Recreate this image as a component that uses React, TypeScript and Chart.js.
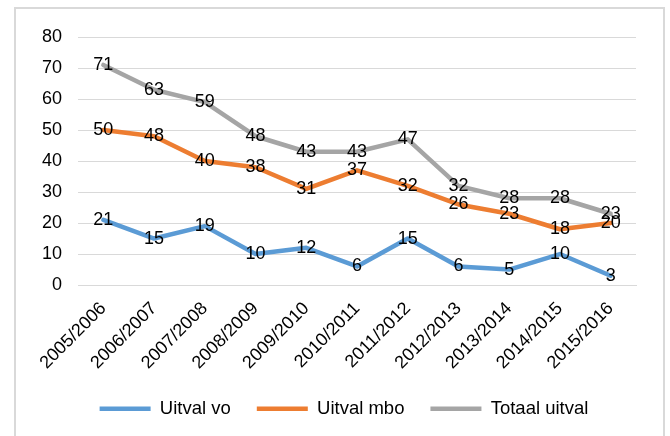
import React, { useEffect, useRef } from "react";
import { Chart, registerables } from "chart.js";

Chart.register(...registerables);

const categories = [
  "2005/2006", "2006/2007", "2007/2008", "2008/2009", "2009/2010", "2010/2011",
  "2011/2012", "2012/2013", "2013/2014", "2014/2015", "2015/2016",
];
const uitvalVo = [21, 15, 19, 10, 12, 6, 15, 6, 5, 10, 3];
const uitvalMbo = [50, 48, 40, 38, 31, 37, 32, 26, 23, 18, 20];
const totaalUitval = [71, 63, 59, 48, 43, 43, 47, 32, 28, 28, 23];
const seriesNames = ["Uitval vo", "Uitval mbo", "Totaal uitval"];
const yTicks = [0, 10, 20, 30, 40, 50, 60, 70, 80];

const FONT = "'Liberation Sans', Arial, sans-serif";

const valueLabels = {
  id: "valueLabels",
  afterDatasetsDraw(chart: any) {
    const ctx = chart.ctx;
    ctx.save();
    ctx.font = `18px ${FONT}`;
    ctx.fillStyle = "#000";
    ctx.textAlign = "center";
    ctx.textBaseline = "middle";
    chart.data.datasets.forEach((ds: any, i: number) => {
      const meta = chart.getDatasetMeta(i);
      meta.data.forEach((p: any, j: number) => {
        ctx.fillText(String(ds.data[j]), p.x, p.y);
      });
    });
    ctx.restore();
  },
};

const legendShift = {
  id: "legendShift",
  afterLayout(chart: any) {
    const l = chart.legend;
    if (l) {
      l.left += 16;
      l.right += 16;
    }
  },
};

export default function App() {
  const ref = useRef<HTMLCanvasElement>(null);
  useEffect(() => {
    if (!ref.current) return;
    const mk = (label: string, data: number[], color: string) => ({
      label,
      data,
      borderColor: color,
      backgroundColor: color,
      borderWidth: 4.5,
      pointRadius: 0,
      tension: 0,
      borderCapStyle: "round" as const,
      borderJoinStyle: "round" as const,
    });
    const chart = new Chart(ref.current, {
      type: "line",
      data: {
        labels: categories,
        datasets: [
          mk(seriesNames[0], uitvalVo, "#5B9BD5"),
          mk(seriesNames[1], uitvalMbo, "#ED7D31"),
          mk(seriesNames[2], totaalUitval, "#A5A5A5"),
        ],
      },
      options: {
        responsive: false,
        animation: false,
        layout: { padding: { left: 20, right: 34, top: 37, bottom: 0 } },
        plugins: {
          tooltip: { enabled: false },
          legend: {
            position: "bottom",
            labels: {
              usePointStyle: true,
              pointStyle: "line",
              pointStyleWidth: 51,
              padding: 26,
              color: "#000",
              font: { family: FONT, size: 18.5 },
            },
          },
        },
        scales: {
          x: {
            offset: true,
            grid: { display: false, drawTicks: false },
            border: { display: true, color: "#D9D9D9", width: 1 },
            afterFit: (axis: any) => {
              axis.height = axis.height - 13;
            },
            ticks: {
              color: "#000",
              font: { family: FONT, size: 18 },
              maxRotation: 45,
              minRotation: 45,
              padding: 13,
            },
          },
          y: {
            min: 0,
            max: 80,
            afterBuildTicks: (axis: any) => {
              axis.ticks = yTicks.map((v) => ({ value: v }));
            },
            afterFit: (axis: any) => {
              axis.width = 58;
            },
            grid: { color: "#D9D9D9", lineWidth: 1, drawTicks: false },
            border: { display: false },
            ticks: {
              color: "#000",
              font: { family: FONT, size: 18 },
              padding: 16,
            },
          },
        },
      },
      plugins: [valueLabels, legendShift],
    });
    return () => chart.destroy();
  }, []);
  return (
    <div
      style={{
        position: "fixed",
        left: 0,
        top: 0,
        width: 670,
        height: 436,
        background: "#fff",
        overflow: "hidden",
      }}
    >
      <div
        style={{
          position: "absolute",
          left: 14,
          top: 7,
          width: 651,
          height: 440,
          border: "2px solid #D9D9D9",
          boxSizing: "border-box",
        }}
      />
      <canvas ref={ref} width={670} height={428} style={{ position: "absolute", left: 0, top: 0 }} />
    </div>
  );
}
